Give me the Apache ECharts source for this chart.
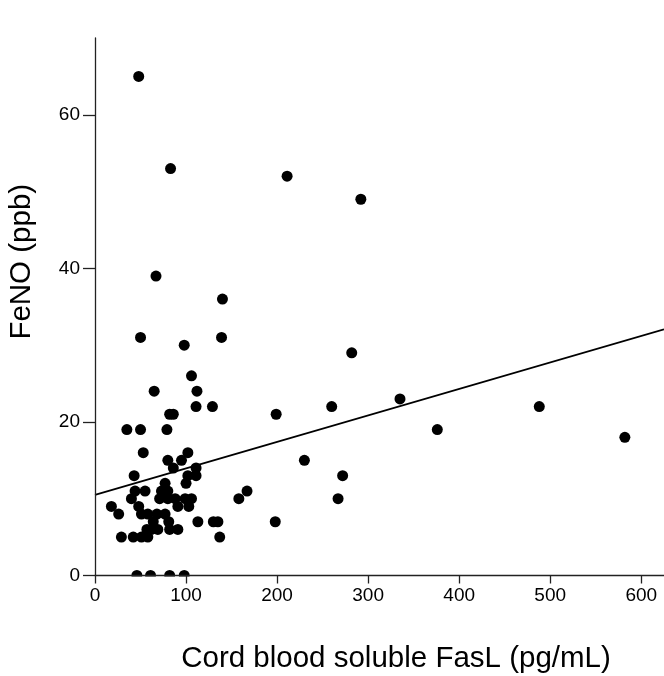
<!DOCTYPE html>
<html>
<head>
<meta charset="utf-8">
<script src="https://cdn.jsdelivr.net/npm/echarts@6/dist/echarts.min.js"></script>
<style>
html,body{margin:0;padding:0;background:#fff;}
#chart{width:664px;height:676px;}
</style>
</head>
<body>
<div id="chart"></div>
<script>
// Cord blood soluble FasL (pg/mL) vs FeNO (ppb)
const fasL = [48, 83, 211, 292, 67, 140, 50, 139, 98, 282, 106, 65, 112, 111, 129, 82, 86, 199, 260, 335, 376, 488, 582,
  35, 50, 79, 53, 102, 80, 95, 230, 86, 111, 43, 102, 111, 272, 100, 77,
  44, 55, 73, 80, 167, 40, 71, 80, 88, 99, 106, 158, 267,
  18, 48, 91, 103, 26, 51, 58, 77, 68,
  64, 81, 113, 130, 135, 198, 57, 62, 69, 82, 91,
  29, 42, 51, 58, 137, 46, 61, 82, 98];
const feno = [65, 53, 52, 49, 39, 36, 31, 31, 30, 29, 26, 24, 24, 22, 22, 21, 21, 21, 22, 23, 19, 22, 18,
  19, 19, 19, 16, 16, 15, 15, 15, 14, 14, 13, 13, 13, 13, 12, 12,
  11, 11, 11, 11, 11, 10, 10, 10, 10, 10, 10, 10, 10,
  9, 9, 9, 9, 8, 8, 8, 8, 8,
  7, 7, 7, 7, 7, 7, 6, 6, 6, 6, 6,
  5, 5, 5, 5, 5, 0, 0, 0, 0];
// fitted regression line
const fitX = [0, 625];
const fitIntercept = 10.5;
const fitSlope = 0.0345;
const xTicks = [0, 100, 200, 300, 400, 500, 600];
const yTicks = [0, 20, 40, 60];

const points = fasL.map((x, i) => [x, feno[i]]);
const fitLine = fitX.map(x => [x, fitIntercept + fitSlope * x]);

const chart = echarts.init(document.getElementById('chart'), null, {renderer: 'canvas'});
const font = 'Liberation Sans, Arial, Helvetica, sans-serif';
chart.setOption({
  animation: false,
  backgroundColor: '#fff',
  grid: {left: 95, right: 0, top: 38, bottom: 100.5, containLabel: false, outerBoundsMode: 'none'},
  xAxis: {
    type: 'value', min: 0, max: 625, interval: 100, z: 10,
    name: 'Cord blood soluble FasL (pg/mL)',
    nameLocation: 'middle', nameGap: 68,
    nameTextStyle: {fontFamily: font, fontSize: 29.5, color: '#000', padding: [0, 0, 0, 33]},
    axisLine: {lineStyle: {color: '#222', width: 1.3}},
    axisTick: {show: true, length: 8, lineStyle: {color: '#222', width: 1.3}, customValues: xTicks},
    axisLabel: {fontFamily: font, fontSize: 19, color: '#000', margin: 11, customValues: xTicks},
    splitLine: {show: false}
  },
  yAxis: {
    type: 'value', min: 0, max: 70, interval: 20, z: 10,
    name: 'FeNO (ppb)',
    nameLocation: 'middle', nameGap: 58,
    nameTextStyle: {fontFamily: font, fontSize: 29.5, color: '#000', padding: [0, 0, 0, 90]},
    axisLine: {show: true, lineStyle: {color: '#222', width: 1.3}},
    axisTick: {show: true, length: 12, lineStyle: {color: '#222', width: 1.3}, customValues: yTicks},
    axisLabel: {fontFamily: font, fontSize: 19, color: '#000', margin: 15, customValues: yTicks},
    splitLine: {show: false}
  },
  graphic: [{
    type: 'rect', z: 5,
    shape: {x: 96, y: 576.5, width: 570, height: 12},
    style: {fill: '#fff'}
  }],
  series: [
    {
      type: 'scatter', data: points, symbol: 'circle', symbolSize: 11, z: 2,
      itemStyle: {color: '#000', opacity: 1}, clip: false
    },
    {
      type: 'line', data: fitLine, showSymbol: false, symbol: 'none', z: 3,
      lineStyle: {color: '#000', width: 1.8}
    }
  ]
});
</script>
</body>
</html>
